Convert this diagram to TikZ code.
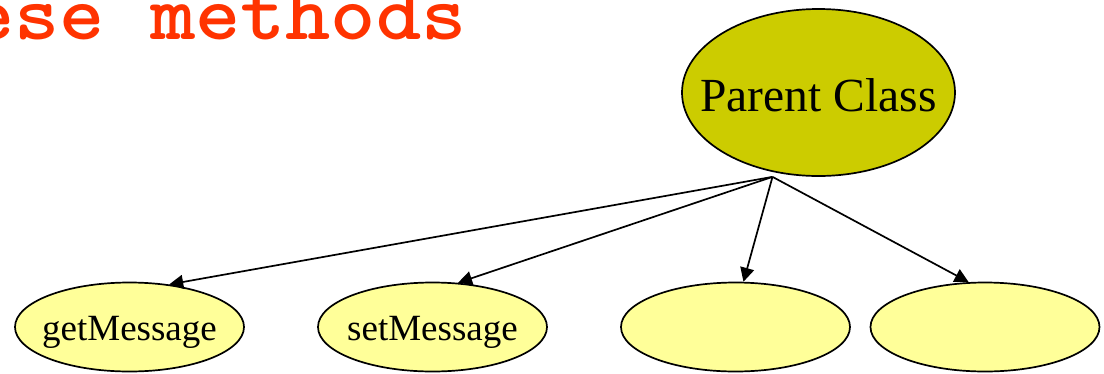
\documentclass[tikz,border=0pt]{standalone}
\usepackage{fontspec}
\setmainfont{Liberation Serif}
\usetikzlibrary{shapes.geometric,arrows.meta}
\definecolor{titlered}{HTML}{FF3300}
\definecolor{parentfill}{HTML}{CCCC00}
\definecolor{childfill}{HTML}{FFFF99}
\begin{document}
\begin{tikzpicture}[x=1pt,y=-1pt,
  classnode/.style={ellipse, draw=black, line width=1.7pt,
    inner xsep=-30pt, inner ysep=0pt, text depth=0pt},
  parentnode/.style={classnode, fill=parentfill,
    minimum width=273pt, minimum height=167pt, text height=37pt,
    font=\fontsize{47.5}{50}\selectfont},
  childnode/.style={classnode, fill=childfill,
    minimum width=229pt, minimum height=89pt, text height=26pt,
    font=\fontsize{37}{40}\selectfont},
  link/.style={line width=1.7pt, -{Triangle[length=14pt,width=14pt]}}]
\useasboundingbox (0,0) rectangle (1104,373);

% heading, partly off the left and top edges
\node[anchor=base west, text=titlered, inner sep=0pt,
  font=\fontsize{79}{80}\selectfont\ttfamily\bfseries]
  (title) at (-31,39) {\scalebox{1.09}[1]{ese methods}};

% class hierarchy
\node[parentnode] (pc) at (818.5,92.5) {Parent Class};
\node[childnode] (gm) at (129.5,327) {getMessage};
\node[childnode] (sm) at (432.5,327) {setMessage};
\node[childnode] (m3) at (735.5,327) {};
\node[childnode] (m4) at (985,327) {};

\coordinate (hub) at ([xshift=-46pt]pc.south);

\draw[link] (hub) -- (gm.47.7);
\draw[link] (hub) -- (sm.60.8);
\draw[link] (hub) -- (m3.80.7);
\draw[link] (hub) -- (m4.110.7);
\end{tikzpicture}
\end{document}
